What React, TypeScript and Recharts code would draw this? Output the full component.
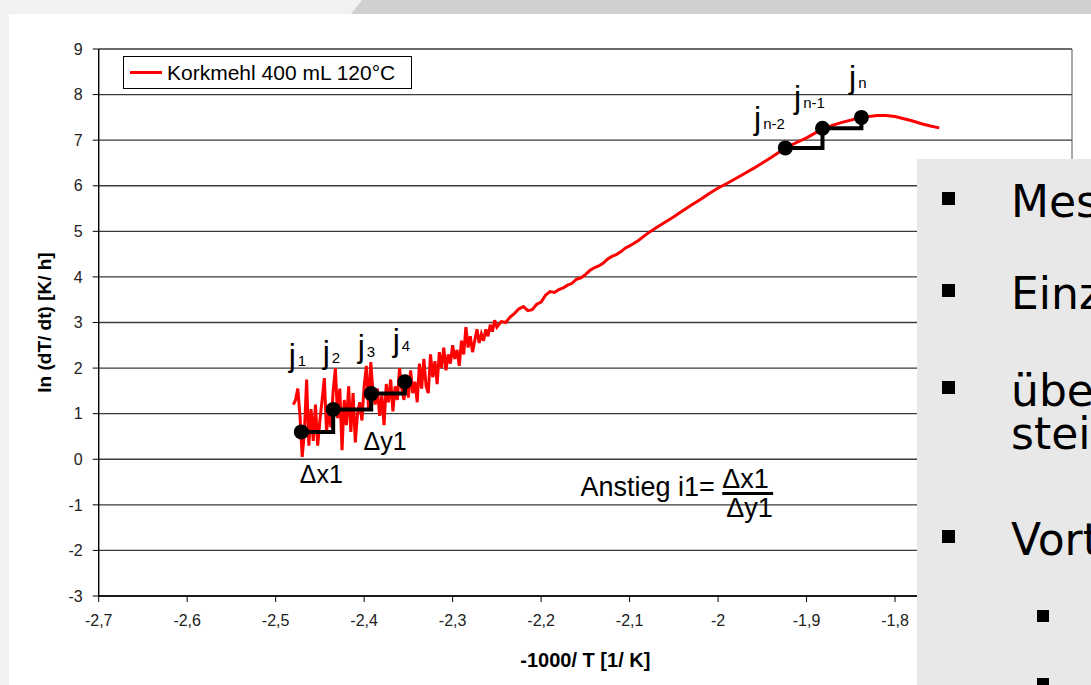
import React from 'react';
import { LineChart, Line, XAxis, YAxis, CartesianGrid, Legend, ReferenceDot, ReferenceLine, Label } from 'recharts';

const FONT = '"Liberation Sans", Arial, sans-serif';
const SLIDE_FONT = '"DejaVu Sans", Verdana, sans-serif';
const SERIES_NAME = 'Korkmehl 400 mL 120°C';

const xTicks = [-2.7, -2.6, -2.5, -2.4, -2.3, -2.2, -2.1, -2.0, -1.9, -1.8, -1.7, -1.6];
const yTicks = [-3, -2, -1, 0, 1, 2, 3, 4, 5, 6, 7, 8, 9];

// measured curve, noisy start
const noisyStart: [number, number][] = [
  [-2.48, 1.2], [-2.4775, 1.3], [-2.475, 1.55], [-2.4725, 0.95], [-2.47, 0.05], [-2.4675, 0.6],
  [-2.465, 1.75], [-2.4625, 0.3], [-2.46, 1.1], [-2.4575, 0.4], [-2.455, 1.2], [-2.4525, 0.3],
  [-2.45, 0.85], [-2.4475, 1.3], [-2.445, 1.78], [-2.4425, 0.6], [-2.44, 1.05], [-2.4375, 0.7],
  [-2.435, 1.5], [-2.4325, 2.0], [-2.43, 0.9], [-2.4275, 1.55], [-2.425, 0.2], [-2.4225, 1.3],
  [-2.42, 0.75], [-2.4175, 1.6], [-2.415, 0.6], [-2.4125, 1.45], [-2.41, 0.37], [-2.4075, 1.0],
  [-2.405, 1.25], [-2.4025, 0.85], [-2.4, 1.6], [-2.3975, 2.05], [-2.395, 1.1], [-2.3925, 2.13],
  [-2.39, 1.45], [-2.3875, 1.2], [-2.385, 1.55], [-2.3825, 0.95], [-2.38, 1.4], [-2.3775, 0.75],
  [-2.375, 1.65], [-2.3725, 1.25], [-2.37, 1.75], [-2.3675, 1.05], [-2.365, 1.6], [-2.3625, 1.3],
  [-2.36, 2.0], [-2.3575, 1.55], [-2.355, 1.3], [-2.3525, 1.85], [-2.35, 1.35], [-2.3475, 1.95],
  [-2.345, 1.45], [-2.3425, 1.7], [-2.34, 1.25], [-2.3375, 2.1], [-2.335, 1.55], [-2.3325, 2.2],
  [-2.33, 1.6],
];

// transition, noise fading out
const transition: [number, number][] = [
  [-2.3275, 1.45], [-2.325, 2.3], [-2.3225, 1.8], [-2.32, 2.15], [-2.3175, 1.65], [-2.315, 2.35],
  [-2.3125, 2.0], [-2.31, 2.45], [-2.3075, 1.95], [-2.305, 2.3], [-2.3025, 2.1], [-2.3, 2.5],
  [-2.2975, 2.2], [-2.295, 2.4], [-2.2925, 2.05], [-2.29, 2.6], [-2.2875, 2.3], [-2.285, 2.9],
  [-2.2825, 2.45], [-2.28, 2.7], [-2.2775, 2.35], [-2.275, 2.6], [-2.2725, 2.85], [-2.27, 2.55],
  [-2.2675, 2.75], [-2.265, 2.6], [-2.2625, 2.85], [-2.26, 2.7], [-2.2575, 2.95], [-2.255, 2.8],
  [-2.2525, 3.05], [-2.25, 2.9],
];

// steady rise up to the maximum
const steadyRise: [number, number][] = [
  [-2.245, 3.02], [-2.24, 3.0], [-2.235, 3.12], [-2.23, 3.2], [-2.225, 3.3], [-2.22, 3.35],
  [-2.215, 3.26], [-2.21, 3.28], [-2.205, 3.4], [-2.2, 3.45], [-2.195, 3.6], [-2.19, 3.68],
  [-2.185, 3.66], [-2.18, 3.72], [-2.175, 3.76], [-2.17, 3.82], [-2.165, 3.86], [-2.16, 3.95],
  [-2.155, 3.98], [-2.15, 4.05], [-2.145, 4.14], [-2.14, 4.2], [-2.135, 4.24], [-2.13, 4.3],
  [-2.125, 4.39], [-2.12, 4.45], [-2.115, 4.49], [-2.11, 4.55], [-2.105, 4.63], [-2.1, 4.68],
  [-2.09, 4.8], [-2.08, 4.95], [-2.07, 5.08], [-2.06, 5.2], [-2.05, 5.32], [-2.04, 5.45],
  [-2.03, 5.58], [-2.02, 5.7], [-2.01, 5.83], [-2.0, 5.95], [-1.99, 6.05], [-1.98, 6.16],
  [-1.97, 6.27], [-1.96, 6.38], [-1.95, 6.5], [-1.94, 6.62], [-1.93, 6.75], [-1.92, 6.87],
  [-1.91, 6.96], [-1.9, 7.05], [-1.89, 7.16], [-1.88, 7.26], [-1.87, 7.33], [-1.86, 7.39],
  [-1.85, 7.44], [-1.84, 7.49], [-1.83, 7.52], [-1.82, 7.54], [-1.81, 7.54], [-1.8, 7.52],
  [-1.79, 7.47], [-1.78, 7.42], [-1.77, 7.36], [-1.76, 7.31], [-1.75, 7.27],
];

// selected points j1..j4 and jn-2..jn
const lowerStepX = [-2.471, -2.435, -2.392, -2.354];
const lowerStepY = [0.6, 1.09, 1.44, 1.7];
const upperStepX = [-1.924, -1.882, -1.838];
const upperStepY = [6.83, 7.26, 7.5];

const jLabels = [
  { x: -2.4852, y: 2.04, sub: '1' },
  { x: -2.4468, y: 2.11, sub: '2' },
  { x: -2.4073, y: 2.24, sub: '3' },
  { x: -2.3678, y: 2.37, sub: '4' },
  { x: -1.9593, y: 7.24, sub: 'n-2' },
  { x: -1.9141, y: 7.7, sub: 'n-1' },
  { x: -1.852, y: 8.14, sub: 'n' },
];

const notes = [
  { x: -2.4728, y: -0.53, text: 'Δx1', size: 25 },
  { x: -2.4006, y: 0.2, text: 'Δy1', size: 25 },
  { x: -2.1556, y: -0.81, text: 'Anstieg i1=', size: 27 },
  { x: -1.9953, y: -0.64, text: 'Δx1', size: 27 },
  { x: -1.9908, y: -1.27, text: 'Δy1', size: 27 },
];

const curve = [...noisyStart, ...transition, ...steadyRise].map(([x, y]) => ({ x, y }));
const lowerSteps = lowerStepX.map((x, i) => ({ x, y: lowerStepY[i] }));
const upperSteps = upperStepX.map((x, i) => ({ x, y: upperStepY[i] }));

const fmt = (v: number) => String(+v.toFixed(1)).replace('.', ',');

const renderJ = (sub: string) => (p: any) => (
  <text x={p.cx} y={p.cy} fontFamily={FONT} fill="#000">
    <tspan fontSize={32}>j</tspan>
    <tspan fontSize={15} dx={2}>{sub}</tspan>
  </text>
);

const renderNote = (text: string, size: number) => (p: any) => (
  <text x={p.cx} y={p.cy} fontFamily={FONT} fontSize={size} fill="#000">{text}</text>
);

const LegendBox = (props: any) => {
  const items = (props.payload || []).filter((p: any) => p.value === SERIES_NAME);
  return (
    <div style={{ border: '1px solid #000', background: '#fff', height: 33, boxSizing: 'border-box', display: 'flex', alignItems: 'center', paddingLeft: 6 }}>
      {items.map((it: any) => (
        <div key={it.value} style={{ display: 'flex', alignItems: 'center' }}>
          <div style={{ width: 32, height: 3, background: it.color }} />
          <span style={{ marginLeft: 5, fontFamily: FONT, fontSize: 21, color: '#000', lineHeight: '21px' }}>{it.value}</span>
        </div>
      ))}
    </div>
  );
};

const bullets = [
  { y: 58, text: 'Mes' },
  { y: 150, text: 'Einz' },
  { y: 247, text: 'über' },
  { y: 396, text: 'Vort' },
];

export default function App() {
  return (
    <div style={{ position: 'relative', width: 1091, height: 685, background: '#fff', overflow: 'hidden' }}>
      <style>{'body{margin:0}'}</style>
      <div style={{ position: 'absolute', left: 0, top: 0, width: 9, height: 685, background: '#f2f2f2' }} />
      <div style={{ position: 'absolute', left: 0, top: 0, width: 1091, height: 14, background: '#f2f2f2' }} />
      <div style={{ position: 'absolute', left: 0, top: 0, width: 1091, height: 14, background: '#d0d0d0', clipPath: 'polygon(351px 14px, 362px 0px, 1091px 0px, 1091px 14px)' }} />
      <div style={{ position: 'absolute', left: 0, top: 0 }}>
        <LineChart width={1091} height={685} margin={{ top: 49, right: 19, bottom: 14, left: 20 }}>
          <CartesianGrid vertical={false} stroke="#3a3a3a" strokeWidth={1.4} />
          <XAxis
            type="number"
            dataKey="x"
            domain={[-2.7, -1.6]}
            ticks={xTicks}
            allowDataOverflow
            tickFormatter={fmt}
            height={75}
            tickSize={6}
            tickMargin={13}
            axisLine={{ stroke: '#000', strokeWidth: 1.4 }}
            tickLine={{ stroke: '#000' }}
            tick={{ fontFamily: FONT, fontSize: 16, fill: '#222' }}
          >
            <Label value="-1000/ T [1/ K]" position="insideBottom" offset={4} style={{ fontFamily: FONT, fontSize: 20, fontWeight: 'bold', fill: '#000' }} />
          </XAxis>
          <YAxis
            type="number"
            domain={[-3, 9]}
            ticks={yTicks}
            allowDataOverflow
            width={78.7}
            tickSize={6}
            tickMargin={10}
            axisLine={{ stroke: '#000', strokeWidth: 1.4 }}
            tickLine={{ stroke: '#000' }}
            tick={{ fontFamily: FONT, fontSize: 16, fill: '#222' }}
            label={{
              content: (p: any) => {
                const vb = p.viewBox || {};
                const cx = vb.x + 31;
                const cy = vb.y + vb.height / 2;
                return (
                  <text x={cx} y={cy} transform={`rotate(-90, ${cx}, ${cy})`} textAnchor="middle" fontFamily={FONT} fontSize={19} fontWeight="bold" fill="#000">
                    ln (dT/ dt) [K/ h]
                  </text>
                );
              },
            }}
          />
          <ReferenceLine x={-1.6} stroke="#555" />
          <Legend
            layout="horizontal"
            align="center"
            verticalAlign="middle"
            content={LegendBox}
            wrapperStyle={{ left: 123, top: 56, width: 289, height: 33 }}
          />
          <Line
            data={curve}
            dataKey="y"
            name={SERIES_NAME}
            type="linear"
            stroke="#ff0000"
            strokeWidth={3}
            dot={false}
            isAnimationActive={false}
          />
          <Line
            data={lowerSteps}
            dataKey="y"
            type="stepAfter"
            stroke="#000"
            strokeWidth={4}
            dot={{ r: 7.5, fill: '#000', stroke: '#000', strokeWidth: 0 }}
            legendType="none"
            isAnimationActive={false}
          />
          <Line
            data={upperSteps}
            dataKey="y"
            type="stepAfter"
            stroke="#000"
            strokeWidth={4}
            dot={{ r: 7.5, fill: '#000', stroke: '#000', strokeWidth: 0 }}
            legendType="none"
            isAnimationActive={false}
          />
          {jLabels.map((l) => (
            <ReferenceDot key={'j' + l.sub} x={l.x} y={l.y} r={0} shape={renderJ(l.sub)} />
          ))}
          {notes.map((n, i) => (
            <ReferenceDot key={'n' + i} x={n.x} y={n.y} r={0} shape={renderNote(n.text, n.size)} />
          ))}
          <ReferenceLine segment={[{ x: -1.9953, y: -0.75 }, { x: -1.9378, y: -0.75 }]} stroke="#000" strokeWidth={3} />
        </LineChart>
      </div>
      <div style={{ position: 'absolute', left: 917, top: 159, width: 174, height: 526, background: '#e8e8e8', overflow: 'hidden' }}>
        <svg width={174} height={526} style={{ display: 'block' }}>
          {bullets.map((b) => (
            <g key={b.text}>
              <rect x={25} y={b.y - 25} width={13} height={13} fill="#000" />
              <text x={94} y={b.y} fontFamily={SLIDE_FONT} fontSize={44} fill="#000">{b.text}</text>
            </g>
          ))}
          <text x={94} y={290} fontFamily={SLIDE_FONT} fontSize={44} fill="#000">steil</text>
          <rect x={120} y={451} width={12} height={12} fill="#000" />
          <rect x={120} y={519} width={12} height={12} fill="#000" />
        </svg>
      </div>
    </div>
  );
}
